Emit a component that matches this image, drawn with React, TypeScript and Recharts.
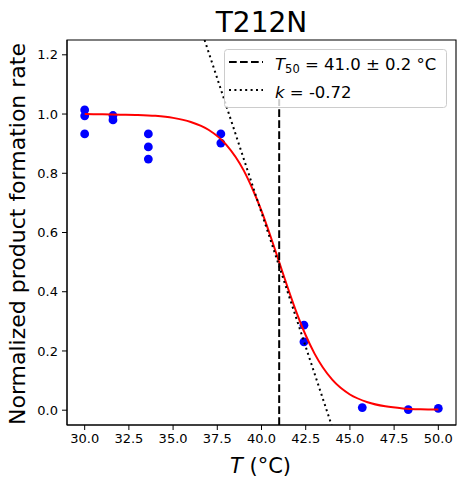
import React from "react";
import {
  ComposedChart,
  Line,
  Scatter,
  XAxis,
  YAxis,
  ReferenceArea,
} from "recharts";

// measured points
const POINT_T: number[] = [30.0, 30.0, 30.0, 31.6, 31.6, 33.6, 33.6, 33.6, 37.7, 37.7, 42.4, 42.4, 45.7, 48.3, 50.0];
const POINT_RATE: number[] = [1.014, 0.994, 0.933, 0.995, 0.98, 0.933, 0.889, 0.848, 0.933, 0.902, 0.287, 0.231, 0.009, 0.002, 0.006];

// fitted curve
const FIT_T: number[] = [30, 31, 32, 33, 34, 35, 36, 37, 38, 39, 39.5, 40, 40.5, 41, 41.5, 42, 42.5, 43, 44, 45, 46, 47, 48, 49, 50];
const FIT_RATE: number[] = [1.0, 0.999, 0.998, 0.997, 0.994, 0.987, 0.973, 0.947, 0.897, 0.809, 0.746, 0.673, 0.589, 0.5, 0.411, 0.327, 0.253, 0.191, 0.103, 0.053, 0.027, 0.013, 0.006, 0.003, 0.002];

// T50 marker line
const T50_T: number[] = [41.0, 41.0];
const T50_RATE: number[] = [-0.05, 1.05];

// slope (tangent) line
const SLOPE_T: number[] = [36.78, 43.96];
const SLOPE_RATE: number[] = [1.25, -0.05];

const X_TICKS: number[] = [30, 32.5, 35, 37.5, 40, 42.5, 45, 47.5, 50];
const Y_TICKS: number[] = [0, 0.2, 0.4, 0.6, 0.8, 1.0, 1.2];

const TITLE = "T212N";
const LEGEND_T50 = "41.0 ± 0.2 °C";
const LEGEND_K = "-0.72";

const FONT = "'DejaVu Sans', sans-serif";

const zip = (xs: number[], ys: number[]) => xs.map((T, i) => ({ T, y: ys[i] }));

const pointData = zip(POINT_T, POINT_RATE);
const fitData = zip(FIT_T, FIT_RATE);
const t50Data = zip(T50_T, T50_RATE);
const slopeData = zip(SLOPE_T, SLOPE_RATE);

const YLabel = (props: any) => {
  const vb = props.viewBox || { x: 0, y: 40, width: 67, height: 385 };
  const cx = vb.x + 24.5;
  const cy = vb.y + vb.height / 2 + 1.5;
  return (
    <text
      x={cx}
      y={cy}
      transform={`rotate(-90 ${cx} ${cy})`}
      textAnchor="middle"
      fontSize={22}
      fontFamily={FONT}
      fill="#000"
    >
      Normalized product formation rate
    </text>
  );
};

const XLabel = (props: any) => {
  const vb = props.viewBox || { x: 67, y: 425, width: 389, height: 62 };
  const cx = vb.x + vb.width / 2 - 1;
  return (
    <text x={cx} y={vb.y + 47.5} textAnchor="middle" fontSize={21} fontFamily={FONT} fill="#000">
      <tspan fontStyle="italic">T</tspan>
      <tspan> (°C)</tspan>
    </text>
  );
};

const Dot = (props: any) => {
  if (props.cx == null || props.cy == null) return null;
  return <circle cx={props.cx} cy={props.cy} r={4.4} fill="#0000ff" />;
};

export default function App() {
  return (
    <div style={{ position: "absolute", left: 0, top: 0, width: 464, height: 487, background: "#fff" }}>
      <ComposedChart
        width={464}
        height={487}
        margin={{ top: 40, right: 8, bottom: 0, left: 0 }}
        style={{ fontFamily: FONT }}
      >
        <XAxis
          dataKey="T"
          type="number"
          domain={[29, 51]}
          ticks={X_TICKS}
          tickFormatter={(v: number) => v.toFixed(1)}
          height={62}
          tickSize={5}
          tickMargin={4}
          allowDataOverflow
          stroke="#000"
          tick={{ fill: "#000", fontSize: 13, fontFamily: FONT }}
          label={<XLabel />}
        />
        <YAxis
          type="number"
          domain={[-0.05, 1.25]}
          ticks={Y_TICKS}
          tickFormatter={(v: number) => v.toFixed(1)}
          width={67}
          tickSize={5}
          tickMargin={4}
          allowDataOverflow
          stroke="#000"
          tick={{ fill: "#000", fontSize: 13, fontFamily: FONT }}
          label={<YLabel />}
        />
        <Scatter data={pointData} dataKey="y" shape={<Dot />} isAnimationActive={false} zIndex={300} />
        <Line
          data={fitData}
          dataKey="y"
          type="monotone"
          stroke="#ff0000"
          strokeWidth={2}
          dot={false}
          activeDot={false}
          isAnimationActive={false}
        />
        <Line
          data={t50Data}
          dataKey="y"
          type="linear"
          stroke="#000"
          strokeWidth={2}
          strokeDasharray="7.7 3.3"
          dot={false}
          activeDot={false}
          isAnimationActive={false}
        />
        <Line
          data={slopeData}
          dataKey="y"
          type="linear"
          stroke="#000"
          strokeWidth={2}
          strokeDasharray="2 3.4"
          dot={false}
          activeDot={false}
          isAnimationActive={false}
        />
        <ReferenceArea x1={29} x2={51} y1={-0.05} y2={1.25} fill="none" stroke="#000" strokeWidth={1.1} fillOpacity={0} />
      </ComposedChart>
      <svg
        width={464}
        height={487}
        style={{ position: "absolute", left: 0, top: 0, pointerEvents: "none" }}
      >
        <text x={261.5} y={32} textAnchor="middle" fontSize={28} fontFamily={FONT} fill="#000">
          {TITLE}
        </text>
        <rect x={224.5} y={49.5} width={222} height={58} rx={3} fill="#fff" fillOpacity={0.8} stroke="#cccccc" strokeWidth={1} />
        <line x1={229} x2={263} y1={62} y2={62} stroke="#000" strokeWidth={2} strokeDasharray="7.7 3.3" />
        <line x1={229} x2={263} y1={90} y2={90} stroke="#000" strokeWidth={2} strokeDasharray="2 3.4" />
        <text x={275} y={69.5} fontSize={16.5} fontFamily={FONT} fill="#000">
          <tspan fontStyle="italic">T</tspan>
          <tspan fontSize={11.5} dy={3}>50</tspan>
          <tspan dy={-3}>{` = ${LEGEND_T50}`}</tspan>
        </text>
        <text x={275} y={97.5} fontSize={16.5} fontFamily={FONT} fill="#000">
          <tspan fontStyle="italic">k</tspan>
          <tspan>{` = ${LEGEND_K}`}</tspan>
        </text>
      </svg>
    </div>
  );
}
